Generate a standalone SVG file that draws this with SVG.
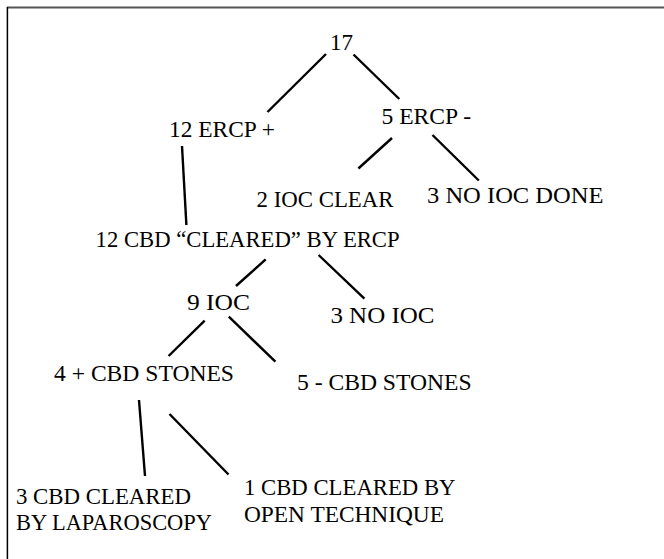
<svg xmlns="http://www.w3.org/2000/svg" width="664" height="559" viewBox="0 0 664 559">
<style>
text { font-family: 'Liberation Serif', 'Times New Roman', Times, 'Nimbus Roman', 'Noto Serif', 'DejaVu Serif', FreeSerif, serif; font-size: 23.5px; fill: #000; }
.edge { stroke: #000; stroke-width: 2.4; stroke-linecap: butt; fill: none; }
</style>
<rect x="0" y="0" width="664" height="559" fill="#fff"/>
<g id="frame">
<line x1="7" y1="7.5" x2="664" y2="7.5" stroke="#555" stroke-width="2"/>
<line x1="7.4" y1="7" x2="7.4" y2="559" stroke="#000" stroke-width="1.5"/>
</g>
<g id="connectors">
<line class="edge" x1="326" y1="54" x2="267.5" y2="112"/>
<line class="edge" x1="353.5" y1="54.5" x2="399.3" y2="99"/>
<line class="edge" x1="392" y1="138" x2="358.4" y2="168.5"/>
<line class="edge" x1="432.5" y1="135" x2="478.8" y2="180.5"/>
<line class="edge" x1="182" y1="146" x2="186.4" y2="225"/>
<line class="edge" x1="265.7" y1="259.3" x2="236" y2="286"/>
<line class="edge" x1="318.6" y1="255" x2="364.4" y2="298.7"/>
<line class="edge" x1="204.7" y1="320.7" x2="168.6" y2="356"/>
<line class="edge" x1="228.8" y1="316.7" x2="275.4" y2="361.7"/>
<line class="edge" x1="139" y1="400" x2="145" y2="476"/>
<line class="edge" x1="169.5" y1="414" x2="228.5" y2="474.5"/>
</g>
<g id="n17"><text x="330" y="50" textLength="23" lengthAdjust="spacingAndGlyphs">17</text></g>
<g id="n12ercp"><text x="169" y="137" textLength="106" lengthAdjust="spacingAndGlyphs">12 ERCP +</text></g>
<g id="n5ercp"><text x="381.5" y="124" textLength="89.5" lengthAdjust="spacingAndGlyphs">5 ERCP -</text></g>
<g id="n2ioc"><text x="256.5" y="206.7" textLength="137" lengthAdjust="spacingAndGlyphs">2 IOC CLEAR</text></g>
<g id="n3noiocdone"><text x="427" y="203" textLength="176.5" lengthAdjust="spacingAndGlyphs">3 NO IOC DONE</text></g>
<g id="n12cbd"><text x="95.6" y="246.7" textLength="304" lengthAdjust="spacingAndGlyphs">12 CBD “CLEARED” BY ERCP</text></g>
<g id="n9ioc"><text x="187" y="310" textLength="63" lengthAdjust="spacingAndGlyphs">9 IOC</text></g>
<g id="n3noioc"><text x="330.4" y="322.7" textLength="104" lengthAdjust="spacingAndGlyphs">3 NO IOC</text></g>
<g id="n4cbd"><text x="54" y="380.7" textLength="180" lengthAdjust="spacingAndGlyphs">4 + CBD STONES</text></g>
<g id="n5cbd"><text x="297" y="390" textLength="174.5" lengthAdjust="spacingAndGlyphs">5 - CBD STONES</text></g>
<g id="n3cleared">
<text x="16" y="504" textLength="175" lengthAdjust="spacingAndGlyphs">3 CBD CLEARED</text>
<text x="16" y="529.7" textLength="196" lengthAdjust="spacingAndGlyphs">BY LAPAROSCOPY</text>
</g>
<g id="n1cleared">
<text x="244" y="495" textLength="211.5" lengthAdjust="spacingAndGlyphs">1 CBD CLEARED BY</text>
<text x="244" y="521.7" textLength="200" lengthAdjust="spacingAndGlyphs">OPEN TECHNIQUE</text>
</g>
</svg>
